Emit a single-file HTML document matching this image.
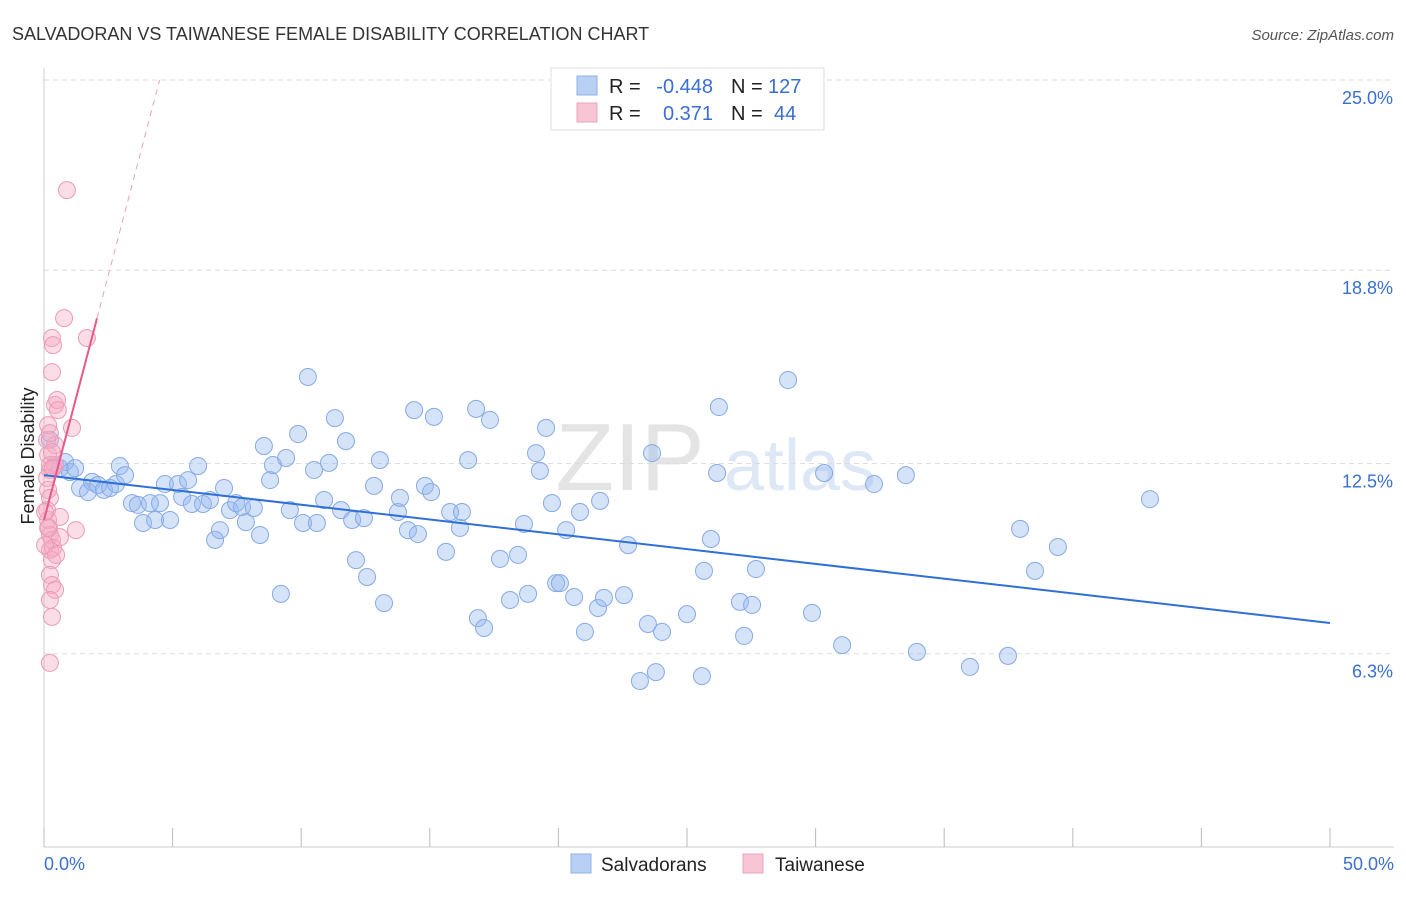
<!DOCTYPE html>
<html><head><meta charset="utf-8"><style>
body{margin:0;background:#fff;font-family:"Liberation Sans",sans-serif;}
svg text{font-family:"Liberation Sans",sans-serif;}
</style></head><body>
<svg id="chart" width="1406" height="892">
<text x="12" y="40" font-size="18" fill="#333">SALVADORAN VS TAIWANESE FEMALE DISABILITY CORRELATION CHART</text>
<text x="1394" y="40" font-size="15" fill="#555" text-anchor="end" font-style="italic">Source: ZipAtlas.com</text>
<text x="630" y="490" font-size="96" fill="#e4e4e4" font-family="Liberation Serif" text-anchor="middle">ZIP</text>
<text x="800" y="490" font-size="72" fill="#dde7f6" text-anchor="middle">atlas</text>
<text transform="translate(34,456) rotate(-90)" font-size="18" fill="#222" text-anchor="middle">Female Disability</text>
<g id="grid"></g><g id="axes"></g><g id="pts"></g><g id="lines"></g>
<g>
<rect x="551" y="68" width="273" height="62" fill="#fff" stroke="#ddd"/>
<rect x="577" y="76" width="20" height="19" fill="#b9d0f5" stroke="#8fb0e6"/>
<rect x="577" y="103" width="20" height="19" fill="#f8c5d5" stroke="#eda2ba"/>
<text x="609" y="93" font-size="20" fill="#222">R = </text><text x="713" y="93" font-size="20" fill="#3a6fd1" text-anchor="end">-0.448</text>
<text x="731" y="93" font-size="20" fill="#222">N = </text><text x="768" y="93" font-size="20" fill="#3a6fd1">127</text>
<text x="609" y="120" font-size="20" fill="#222">R = </text><text x="713" y="120" font-size="20" fill="#3a6fd1" text-anchor="end">0.371</text>
<text x="731" y="120" font-size="20" fill="#222">N = </text><text x="774" y="120" font-size="20" fill="#3a6fd1">44</text>
</g>
<g>
<rect x="571" y="854" width="20" height="19" fill="#b9d0f5" stroke="#8fb0e6"/>
<text x="601" y="871" font-size="19" fill="#222">Salvadorans</text>
<rect x="743" y="854" width="20" height="19" fill="#f8c5d5" stroke="#eda2ba"/>
<text x="775" y="871" font-size="19" fill="#222">Taiwanese</text>
</g>
</svg>
<script>
const yTicks=[6.3,12.5,18.8,25.0];
const yTickLabels=["6.3%","12.5%","18.8%","25.0%"];
const xTicks=[0,5,10,15,20,25,30,35,40,45,50];
const xEndLabels=["0.0%","50.0%"];
const blueX=[0.23,0.43,0.62,0.82,1.01,1.21,1.40,1.71,1.87,2.10,2.33,2.57,2.80,2.95,3.15,3.42,3.65,3.85,4.12,4.32,4.51,4.70,4.90,5.21,5.37,5.60,5.75,5.99,6.18,6.45,6.65,6.84,7.0,7.23,7.47,7.70,7.85,8.16,8.40,8.55,8.79,8.90,9.21,9.41,9.56,9.88,10.07,10.26,10.50,10.61,10.89,11.08,11.31,11.55,11.74,11.98,12.13,12.44,12.56,12.83,13.06,13.22,13.76,13.84,14.15,14.39,14.54,14.81,15.05,15.16,15.63,15.79,16.17,16.25,16.49,16.80,16.87,17.11,17.34,17.73,18.12,18.43,18.66,18.82,19.13,19.28,19.52,19.75,19.91,20.06,20.30,20.61,20.84,21.03,21.54,21.62,21.77,22.55,22.71,23.17,23.48,23.64,23.79,24.03,25.0,25.58,25.66,25.93,26.17,26.24,27.06,27.22,27.53,27.68,28.93,29.86,30.33,31.03,32.27,33.51,33.94,36.0,37.48,37.95,38.53,39.42,43.0];
const blueY=[13.27,12.45,12.35,12.55,12.22,12.35,11.70,11.57,11.90,11.80,11.64,11.70,11.83,12.42,12.12,11.21,11.15,10.56,11.21,10.66,11.21,11.83,10.66,11.83,11.41,11.96,11.18,12.42,11.18,11.31,10.01,10.33,11.70,10.98,11.21,11.08,10.59,11.05,10.17,13.07,11.96,12.45,8.25,12.68,10.98,13.46,10.56,15.32,12.29,10.56,11.31,12.52,13.98,10.98,13.23,10.66,9.35,10.72,8.80,11.77,12.61,7.95,10.92,11.38,10.33,14.24,10.20,11.77,11.57,14.02,9.62,10.92,10.40,10.92,12.61,14.28,7.46,7.14,13.92,9.39,8.05,9.52,10.53,8.25,12.84,12.26,13.66,11.21,8.60,8.60,10.33,8.15,10.92,7.01,7.79,11.28,8.12,8.21,9.84,5.41,7.27,12.84,5.70,7.01,7.59,5.57,9.00,10.04,12.19,14.34,7.99,6.88,7.89,9.06,15.22,7.63,12.19,6.58,11.83,12.12,6.36,5.87,6.23,10.37,9.00,9.78,11.34];
const pinkX=[0.12,0.16,0.23,0.31,0.31,0.35,0.43,0.51,0.16,0.23,0.12,0.16,0.19,0.23,0.31,0.23,0.35,0.31,0.23,0.31,0.43,0.23,0.31,0.23,0.62,0.78,0.89,1.09,1.24,1.67,0.43,0.23,0.12,0.43,0.62,0.16,0.04,0.23,0.54,0.16,0.04,0.31,0.35,0.47];
const pinkY=[13.27,12.78,12.29,16.59,15.48,16.36,14.41,14.57,11.64,11.38,10.98,10.66,10.40,10.17,10.01,9.68,9.75,9.35,8.87,8.54,8.38,8.05,7.50,6.0,10.76,17.24,21.41,13.66,10.33,16.59,12.45,12.45,12.03,13.10,10.10,13.75,9.84,13.49,14.24,10.40,10.92,12.87,12.35,9.52];
const blueTrend=[12.12,7.30];
const pinkTrend=[10.66,3.19];
const NS="http://www.w3.org/2000/svg";
const X0=44,X1=1330,Y0=847,Y25=80;
const sx=v=>X0+(X1-X0)*v/50;
const sy=v=>Y0-(Y0-Y25)*v/25;
function mk(tag,attrs,parent){const e=document.createElementNS(NS,tag);for(const k in attrs)e.setAttribute(k,attrs[k]);document.getElementById(parent).appendChild(e);return e;}
let g=mk('line',{x1:X0,x2:1394,y1:sy(25),y2:sy(25),stroke:'#ddd','stroke-dasharray':'5,4'},'grid');


yTicks.forEach((t,i)=>{
 const l=mk('line',{x1:X0,x2:1394,y1:sy(t),y2:sy(t),stroke:'#ddd','stroke-dasharray':'5,4'},'grid');
 
 
 const tx=mk('text',{x:1393,y:sy(t)+24,'font-size':18,fill:'#3a6fd1','text-anchor':'end'},'axes');
 tx.textContent=yTickLabels[i];
 
 
});
let ax=mk('line',{x1:X0,x2:X0,y1:68,y2:847,stroke:'#ccc'},'axes');


let bx=mk('line',{x1:X0,x2:1394,y1:847,y2:847,stroke:'#ccc'},'axes');


xTicks.forEach(t=>{
 const l=mk('line',{x1:sx(t),x2:sx(t),y1:828,y2:847,stroke:'#bbb'},'axes');
 
 
});
let xl=mk('text',{x:44,y:870,'font-size':18,fill:'#3a6fd1'},'axes');xl.textContent=xEndLabels[0];


let xr=mk('text',{x:1394,y:870,'font-size':18,fill:'#3a6fd1','text-anchor':'end'},'axes');xr.textContent=xEndLabels[1];


blueX.forEach((x,i)=>{
 const c=mk('circle',{cx:sx(x),cy:sy(blueY[i]),r:8.5,fill:'rgba(150,185,240,0.4)',stroke:'#86aae6','stroke-width':1},'pts');
 
 
});
pinkX.forEach((x,i)=>{
 const c=mk('circle',{cx:sx(x),cy:sy(pinkY[i]),r:8.5,fill:'rgba(245,170,195,0.4)',stroke:'#ec9bb6','stroke-width':1},'pts');
 
 
});
let bl=mk('line',{x1:sx(0),y1:sy(blueTrend[0]),x2:sx(50),y2:sy(blueTrend[1]),stroke:'#2f6fd6','stroke-width':2},'lines');


const pe=(25-pinkTrend[0])/pinkTrend[1];
let pl=mk('line',{x1:sx(0),y1:sy(pinkTrend[0]),x2:sx(2.06),y2:sy(pinkTrend[0]+pinkTrend[1]*2.06),stroke:'#e8588a','stroke-width':2},'lines');


let pd=mk('line',{x1:sx(2.06),y1:sy(pinkTrend[0]+pinkTrend[1]*2.06),x2:sx(pe),y2:sy(25),stroke:'#eea0bb','stroke-width':1,'stroke-dasharray':'6,5'},'lines');


</script>
</body></html>
